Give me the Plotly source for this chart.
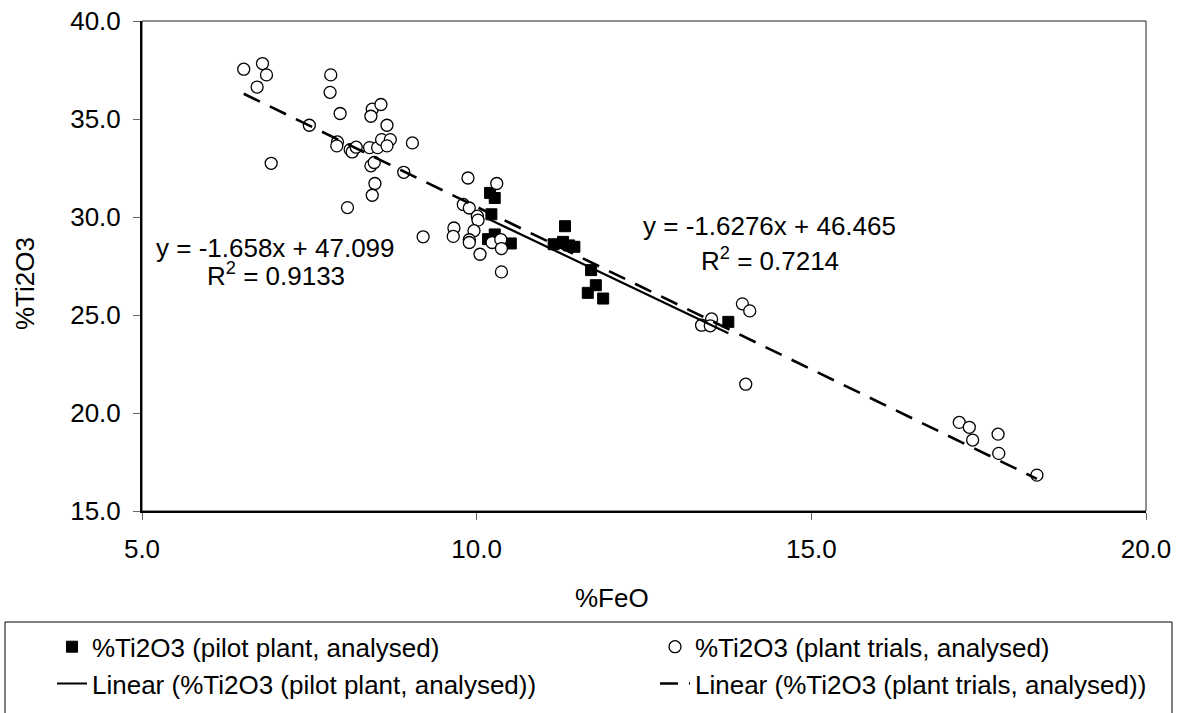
import plotly.graph_objects as go

# ---------------- data ----------------
pilot_feo = [10.20, 10.27, 10.22, 10.27, 10.17, 10.51, 11.32, 11.15, 11.29, 11.38,
             11.46, 11.71, 11.78, 11.66, 11.89, 13.76]
pilot_ti2o3 = [31.23, 30.97, 30.14, 29.11, 28.87, 28.65, 29.53, 28.61, 28.73, 28.55,
               28.48, 27.29, 26.52, 26.13, 25.84, 24.65]

plant_feo = [6.52, 6.80, 6.86, 6.72, 6.93, 7.50, 7.82, 7.81, 7.96, 7.92,
             7.91, 8.11, 8.14, 8.20, 8.07, 8.40, 8.52, 8.44, 8.42, 8.57,
             8.66, 8.58, 8.71, 8.66, 8.42, 8.47, 8.48, 8.44, 9.04, 8.91,
             9.20, 9.87, 10.30, 9.66, 9.65, 9.80, 9.89, 10.01, 10.02, 9.96,
             9.89, 9.89, 10.05, 10.37, 10.23, 10.36, 10.37, 13.36, 13.51, 13.49,
             13.97, 14.08, 14.02, 17.21, 17.36, 17.41, 17.79, 17.80, 18.37]
plant_ti2o3 = [37.54, 37.83, 37.25, 36.63, 32.74, 34.68, 37.25, 36.36, 35.28, 33.83,
               33.63, 33.44, 33.32, 33.56, 30.48, 33.54, 33.54, 35.50, 35.14, 35.74,
               34.68, 33.95, 33.95, 33.63, 32.61, 32.78, 31.71, 31.11, 33.78, 32.28,
               28.99, 31.99, 31.71, 29.44, 29.01, 30.64, 30.46, 30.04, 29.84, 29.30,
               28.84, 28.70, 28.10, 27.20, 28.70, 28.85, 28.39, 24.48, 24.80, 24.45,
               25.57, 25.21, 21.47, 19.52, 19.27, 18.62, 18.92, 17.94, 16.83]

# trendline equations as printed on the chart
pilot_slope, pilot_intercept, pilot_r2 = -1.6276, 46.465, 0.7214
plant_slope, plant_intercept, plant_r2 = -1.658, 47.099, 0.9133

x_ticks = [5, 10, 15, 20]
y_ticks = [15, 20, 25, 30, 35, 40]

# ---------------- layout geometry ----------------
W, H = 1181, 713
ML, MR, MT, MB = 142, 35, 21, 202
PW, PH = W - ML - MR, H - MT - MB

def px_x(px):
    return (px - ML) / PW

def px_y(py):
    return (H - MB - py) / PH

FONT = "Arial, Liberation Sans, sans-serif"
FS = 26

fig = go.Figure()

fig.add_trace(go.Scatter(
    x=pilot_feo, y=pilot_ti2o3, mode="markers",
    name="%Ti2O3 (pilot plant, analysed)",
    marker=dict(symbol="square", size=11, color="black",
                line=dict(color="black", width=1)),
    legend="legend"))

fig.add_trace(go.Scatter(
    x=plant_feo, y=plant_ti2o3, mode="markers",
    name="%Ti2O3 (plant trials, analysed)",
    marker=dict(symbol="circle", size=12, color="white",
                line=dict(color="black", width=1.3)),
    legend="legend2"))

px0, px1 = min(pilot_feo), max(pilot_feo)
fig.add_trace(go.Scatter(
    x=[px0, px1],
    y=[pilot_slope * px0 + pilot_intercept, pilot_slope * px1 + pilot_intercept],
    mode="lines", name="Linear (%Ti2O3 (pilot plant, analysed))",
    line=dict(color="black", width=2.2), legend="legend"))

tx0, tx1 = min(plant_feo), max(plant_feo)
fig.add_trace(go.Scatter(
    x=[tx0, tx1],
    y=[plant_slope * tx0 + plant_intercept, plant_slope * tx1 + plant_intercept],
    mode="lines", name="Linear (%Ti2O3 (plant trials, analysed))",
    line=dict(color="black", width=2.6, dash="18px,11px"), legend="legend2"))

axis_common = dict(
    showgrid=False, zeroline=False, showline=True, linecolor="black", linewidth=2,
    ticks="outside", ticklen=7, tickwidth=1, tickcolor="#666",
    tickfont=dict(family=FONT, size=FS, color="black"), tickformat=".1f",
)

fig.update_xaxes(range=[5, 20], tickvals=x_ticks, ticklabelstandoff=7, **axis_common)
fig.update_yaxes(range=[15, 40], tickvals=y_ticks, ticklabelstandoff=7, **axis_common)

annotations = [
    dict(text="%FeO", x=px_x(612), y=px_y(598)),
    dict(text="%Ti2O3", x=px_x(25), y=px_y(284), textangle=-90),
    dict(text="y = %.3fx + %.3f" % (plant_slope, plant_intercept), x=px_x(275.5), y=px_y(247.5)),
    dict(text="R<sup>2</sup> = %.4f" % plant_r2, x=px_x(275.5), y=px_y(274)),
    dict(text="y = %.4fx + %.3f" % (pilot_slope, pilot_intercept), x=px_x(769.5), y=px_y(225.5)),
    dict(text="R<sup>2</sup> = %.4f" % pilot_r2, x=px_x(769.5), y=px_y(259)),
]
for a in annotations:
    a.update(xref="paper", yref="paper", showarrow=False, xanchor="center", yanchor="middle",
             font=dict(family=FONT, size=FS, color="black"))

shapes = [
    dict(type="rect", xref="paper", yref="paper", x0=0, x1=1, y0=0, y1=1,
         line=dict(color="#222", width=1), layer="below"),
    dict(type="rect", xref="paper", yref="paper", x0=px_x(5), x1=px_x(1172),
         y0=px_y(622), y1=px_y(740), line=dict(color="black", width=1)),
]

legend_common = dict(orientation="v", xanchor="left", yanchor="top",
                     bgcolor="rgba(0,0,0,0)", borderwidth=0,
                     font=dict(family=FONT, size=FS, color="black"),
                     tracegroupgap=0)

fig.update_layout(
    width=W, height=H,
    margin=dict(l=ML, r=MR, t=MT, b=MB, autoexpand=False),
    paper_bgcolor="white", plot_bgcolor="white",
    font=dict(family=FONT, size=FS, color="black"),
    showlegend=True,
    legend=dict(x=px_x(52), y=px_y(623.3), **legend_common),
    legend2=dict(x=px_x(655), y=px_y(623.3), **legend_common),
    annotations=annotations,
    shapes=shapes,
)

fig.write_html("out.html")
